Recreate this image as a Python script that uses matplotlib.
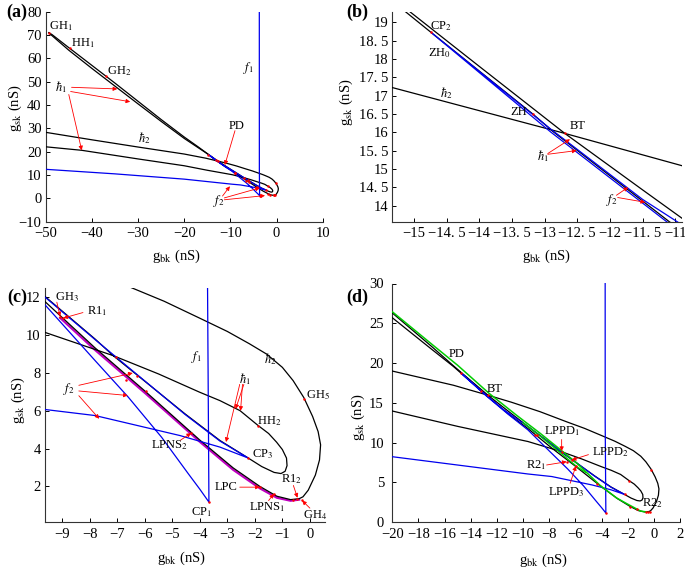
import matplotlib
matplotlib.use("Agg")
import matplotlib.pyplot as plt
from matplotlib.ticker import FixedLocator, FixedFormatter

plt.rcParams['font.family'] = ['Liberation Serif', 'DejaVu Serif']
plt.rcParams['mathtext.fontset'] = 'stix'

# ---------------- data: curves in (g_bk, g_sk) ----------------
# h1: GH1 -> steep outer branch -> CP3 -> tip -> shallow branch
h1_x = [-49.3, -48.6, -45, -40, -35, -30, -25, -20, -17, -15.33, -15.09, -14.0, -12.69, -11.5, -10.9,
        -9.63, -7.81, -7.15, -4.54, -3.27, -2.24, -1.75, -1.3, -1.05, -0.9, -0.83, -0.85, -1.0,
        -1.21, -1.5, -1.88, -2.54, -3.27, -4.0, -5.5, -7.15, -9.63, -15, -20, -30, -42.2, -50]
h1_y = [71.0, 70.15, 64.6, 57.0, 49.4, 41.6, 33.8, 26.3, 22.1, 19.67, 19.33, 17.80, 15.97, 14.43, 13.66,
        12.05, 9.8, 8.92, 5.84, 4.43, 3.5, 3.05, 2.74, 2.68, 2.8, 3.1, 3.5, 3.95,
        4.34, 4.8, 5.22, 6.01, 6.54, 6.98, 7.95, 8.92, 10.15, 12.05, 13.98, 16.9, 20.6, 22.1]

# h2: GH1 -> steep inner branch -> GH4 -> outer loop -> shallow branch
h2_x = [-49.3, -48.9, -45, -40, -35, -30, -25, -20, -17, -15.33, -14.74, -13.18, -12.87, -11.09,
        -9.63, -7.81, -6.0, -4.0, -2.79, -1.82, -1.2, -0.7, -0.39, -0.25, -0.06, 0.2, 0.35, 0.39,
        0.3, 0.1, -0.22, -0.61, -1.0, -1.57, -2.2, -3.0, -4.0, -5.3, -6.66, -8.71, -10.9, -12.69,
        -15.33, -20, -30, -40, -50]
h2_y = [71.0, 70.2, 63.5, 55.7, 48.1, 40.5, 33.0, 25.7, 21.75, 19.58, 18.73, 16.5, 16.02, 13.56,
        11.78, 9.33, 7.05, 4.45, 2.98, 2.0, 1.48, 1.3, 1.35, 1.45, 1.8, 2.6, 3.4, 4.2,
        4.9, 5.7, 6.7, 7.6, 8.3, 9.0, 9.55, 10.2, 10.9, 11.8, 12.62, 13.9, 15.09, 15.97,
        17.22, 19.0, 22.0, 25.1, 28.3]

# fold curve: f1 (vertical) -> CP1 -> curved branch -> CP2 -> f2 steep -> CP3 -> f2 shallow
fold_x = [-3.73, -3.72, -3.67, -4.0, -4.42, -5.39, -6.6, -7.81, -9.63, -11.13, -12.9, -14.74,
          -12.9, -11.5, -9.63, -7.81, -4.54, -3.27, -2.24, -3.27, -4.72, -7.81, -9.63, -20, -35, -50]
fold_y = [80, 12.5, 1.17, 1.85, 2.67, 4.6, 6.72, 8.66, 11.61, 13.56, 16.0, 18.73,
          16.08, 14.17, 12.02, 9.77, 5.81, 4.40, 3.5, 4.08, 4.69, 5.75, 6.07, 8.24, 10.5, 12.45]

# limit point of cycles (LPC), panel (c)
lpc_x = [-9.08, -7.81, -6.0, -4.32, -4.0, -2.79, -1.82, -1.2, -0.7, -0.39]
lpc_y = [10.92, 9.22, 6.95, 4.78, 4.36, 2.88, 1.9, 1.4, 1.24, 1.3]

# period-doubling curves, panel (d)
pd1_x = [-20, -17, -15, -12.6, -10.5, -8.71, -7.2, -5.9, -4.12, -2.84, -2.08, -1.0, -0.55]
pd1_y = [26.45, 22.4, 19.72, 16.2, 13.45, 11.2, 9.2, 7.45, 4.65, 3.05, 2.35, 1.4, 1.3]
pd2_x = [-10.0, -8.71, -7.2, -5.9, -5.2]
pd2_y = [12.5, 10.85, 8.8, 7.0, 6.25]

# special points (red dots)
pt_x = [-49.2, -44.7, -36.9, -14.74, -13.18, -12.69, -9.08, -8.96, -7.05, -6.67, -6.28, -5.96,
        -4.32, -3.67, -2.24, -1.88, -1.82, -1.31, -0.45, -0.3, -0.22, -0.6]
pt_y = [70.7, 64.5, 52.4, 18.73, 16.5, 15.97, 10.94, 10.91, 8.87, 7.61, 7.83, 7.07,
        4.82, 1.17, 3.5, 5.22, 1.96, 1.61, 1.35, 1.3, 6.63, 1.28]

# ---------------- labels & arrows ----------------
H1 = r'$\hbar_{\mathit{1}}$'
H2 = r'$\hbar_{\mathit{2}}$'
F1 = r'$f_{\mathit{1}}$'
F2 = r'$f_{\mathit{2}}$'

labels_a = [('GH$_1$', -46.8, 73.8), ('HH$_1$', -41.9, 66.4), ('GH$_2$', -34.0, 54.7), (H1, -46.7, 47.5),
            (H2, -28.7, 25.7), (F1, -6.1, 56), ('PD', -8.6, 31.1), (F2, -12.6, -1.3)]
arrows_a = [(-44.4, 47.6, -34.5, 46.9), (-44.6, 45.8, -31.7, 41.4), (-45.0, 44.5, -42.2, 20.6),
            (-9.0, 29.0, -11.2, 14.3), (-11.7, 1.0, -10.1, 5.2), (-11.3, 0.2, -3.6, 4.5),
            (-11.3, -0.6, -2.5, 1.2)]

labels_b = [('CP$_2$', -14.59, 18.9), ('ZH$_0$', -14.6, 18.17), (H2, -14.5, 17.08), ('ZH', -13.4, 16.55),
            ('BT', -12.5, 16.17), (H1, -13.03, 15.36), (F2, -11.97, 14.14)]
arrows_b = [(-12.95, 15.42, -12.61, 15.81), (-12.95, 15.4, -12.51, 15.5),
            (-11.9, 14.28, -11.72, 14.5), (-11.88, 14.22, -11.46, 14.09)]

labels_c = [('GH$_3$', -8.84, 12.0), ('R1$_1$', -7.75, 11.3), (F1, -4.12, 8.83), (H2, -1.45, 8.75),
            ('GH$_5$', 0.3, 6.81), (H1, -2.36, 7.7), ('HH$_2$', -1.48, 5.43), ('CP$_3$', -1.72, 3.73),
            ('R1$_2$', -0.67, 2.4), ('GH$_4$', 0.18, 0.47), ('LPC', -3.03, 1.96), ('LPNS$_1$', -1.57, 0.91),
            ('LPNS$_2$', -5.09, 4.17), ('CP$_1$', -3.94, 0.64), (F2, -8.78, 7.16)]
arrows_c = [(-9.2, 11.75, -9.08, 11.0), (-8.25, 11.2, -8.96, 10.91), (-2.45, 7.4, -2.52, 6.0),
            (-2.4, 7.4, -2.7, 6.1), (-2.55, 7.4, -3.05, 4.35), (-2.55, 1.96, -1.82, 1.96),
            (-1.5, 1.25, -1.31, 1.61), (-4.7, 4.45, -4.32, 4.82), (-0.6, 2.05, -0.45, 1.4),
            (0.0, 0.85, -0.28, 1.25), (-8.4, 7.35, -6.44, 8.0), (-8.4, 7.05, -6.62, 6.81),
            (-8.4, 6.8, -7.66, 5.58)]

labels_d = [('PD', -15.1, 21.2), ('BT', -12.15, 16.8), ('LPPD$_1$', -7.05, 11.4), ('LPPD$_2$', -3.3, 8.8),
            ('R2$_1$', -9.0, 7.2), ('LPPD$_3$', -6.67, 3.75), ('R2$_2$', -0.1, 2.39)]
arrows_d = [(-7.05, 10.4, -7.05, 8.95), (-5.0, 8.5, -6.28, 7.83), (-8.2, 7.2, -6.67, 7.61),
            (-6.4, 4.9, -5.96, 7.07)]

# ---------------- figure ----------------
fig = plt.figure(figsize=(6.85, 5.7), dpi=100)
W, Hh = 685.0, 570.0

def make_ax(l, r, t, b):
    return fig.add_axes([l / W, 1 - b / Hh, (r - l) / W, (b - t) / Hh])

axa = make_ax(45.7, 322.7, 11.7, 221.7)
axb = make_ax(392.3, 681.7, 11.7, 221.7)
axc = make_ax(45.0, 325.0, 288.0, 522.3)
axd = make_ax(392.3, 680.0, 283.5, 522.3)

lw = 0.9

def draw(ax, lpc=False, pd=False):
    ax.plot(h1_x, h1_y, color='black', lw=lw, zorder=3)
    ax.plot(h2_x, h2_y, color='black', lw=lw, zorder=3)
    if lpc:
        ax.plot(lpc_x, lpc_y, color='#c000c0', lw=1.6, zorder=2)
    if pd:
        ax.plot(pd1_x, pd1_y, color='#00cc00', lw=1.1, zorder=4)
        ax.plot(pd2_x, pd2_y, color='#00cc00', lw=1.0, zorder=4)
    ax.plot(fold_x, fold_y, color='#0000ee', lw=lw, zorder=3.5)
    ax.plot(pt_x, pt_y, 'o', color='red', ms=1.8, mew=0, zorder=6)

def annotate(ax, labels, arrows, fs=9):
    for s, x, y in labels:
        ax.text(x, y, s, fontsize=fs, ha='center', va='center', zorder=7)
    for x0, y0, x1, y1 in arrows:
        ax.annotate('', xy=(x1, y1), xytext=(x0, y0),
                    arrowprops=dict(arrowstyle='-|>', color='red', lw=0.6, mutation_scale=6,
                                    shrinkA=0, shrinkB=0), zorder=7)

def style(ax, xlim, ylim, xt, yt, xtl=None, ytl=None, ypad=3):
    ax.set_xlim(*xlim)
    ax.set_ylim(*ylim)
    for s in ('top', 'right'):
        ax.spines[s].set_visible(False)
    for s in ('left', 'bottom'):
        ax.spines[s].set_linewidth(0.8)
        ax.spines[s].set_color('#333333')
    ax.xaxis.set_major_locator(FixedLocator(xt))
    ax.yaxis.set_major_locator(FixedLocator(yt))
    if xtl is None:
        xtl = [('%g' % v).replace('-', '\u2212') for v in xt]
    if ytl is None:
        ytl = [('%g' % v).replace('-', '\u2212') for v in yt]
    ax.xaxis.set_major_formatter(FixedFormatter(xtl))
    ax.yaxis.set_major_formatter(FixedFormatter(ytl))
    ax.tick_params(direction='in', length=3, width=0.7, labelsize=10.5)
    ax.tick_params(axis='x', pad=4)
    ax.tick_params(axis='y', pad=ypad)

def axlabels(ax, xc, yc):
    ax.set_xlabel(r'g$_{\rm bk}$ (nS)', fontsize=10.5)
    ax.set_ylabel(r'g$_{\rm sk}$ (nS)', fontsize=10.5)
    ax.xaxis.set_label_coords(xc[0], xc[1])
    ax.yaxis.set_label_coords(yc[0], yc[1])
    ax.xaxis.label.set_va('center')
    ax.yaxis.label.set_va('center')

def dotted(v):
    s = '%g' % v
    s = s.replace('.', '. ')
    return s.replace('-', '\u2212')

# (a)
draw(axa)
style(axa, (-50, 10), (-10, 80), list(range(-50, 11, 10)), list(range(-10, 81, 10)))
annotate(axa, labels_a, arrows_a)
axlabels(axa, (0.473, -0.167), (-0.111, 0.54))

# (b)
draw(axb)
xtb = [-15 + 0.5 * i for i in range(9)]
ytb = [14 + 0.5 * i for i in range(11)]
style(axb, (-15.33, -10.9), (13.56, 19.29), xtb, ytb,
      [dotted(v) for v in xtb], [dotted(v) for v in ytb])
annotate(axb, labels_b, arrows_b)
axlabels(axb, (0.534, -0.167), (-0.16, 0.57))

# (c)
draw(axc, lpc=True)
style(axc, (-9.63, 0.55), (0.1, 12.5), list(range(-9, 1)), [2, 4, 6, 8, 10, 12])
annotate(axc, labels_c, arrows_c)
axlabels(axc, (0.488, -0.154), (-0.096, 0.52))

# (d)
draw(axd, pd=True)
style(axd, (-20, 2), (0, 30), list(range(-20, 3, 2)), list(range(0, 31, 5)), ypad=6)
annotate(axd, labels_d, arrows_d)
axlabels(axd, (0.525, -0.158), (-0.119, 0.44))

for s, x, y in [('(a)', 17, 12), ('(b)', 357, 12), ('(c)', 17, 297), ('(d)', 357, 297)]:
    fig.text(x / W, 1 - y / Hh, s, fontsize=13, fontweight='bold', ha='center', va='center')

fig.savefig('out.png', dpi=100)
